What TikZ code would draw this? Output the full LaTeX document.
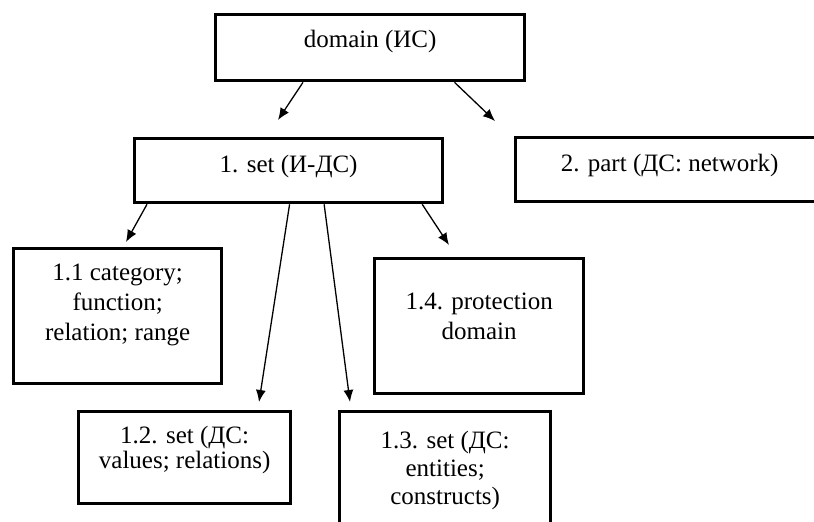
\documentclass[tikz,border=0pt]{standalone}
\usepackage{fontspec}
\setmainfont{Liberation Serif}
\usetikzlibrary{calc}
\usetikzlibrary{arrows.meta}
% top-aligned box text: width, height, first baseline, line skip, text
\newcommand{\boxtxt}[5]{\parbox[t][#2pt][t]{#1pt}{\centering\baselineskip=#4pt\rule{0pt}{#3pt}#5\par}}

\begin{document}
\begin{tikzpicture}[x=1pt, y=-1pt,
		box/.style={draw, line width=3.3pt, inner sep=0pt, anchor=north west, font=\fontsize{25}{30}\selectfont},
		arr/.style={-{Latex[length=12pt, width=10pt]}, line width=1.3pt}]
	\useasboundingbox (0,0) rectangle (814,522);
	\node[box] (dom) at (214,13) {\boxtxt{309}{66}{33}{30}{domain (ИС)}};
	\node[box] (set) at (133,137) {\boxtxt{308}{64}{34}{30}{1. set (И-ДС)}};
	\node[box] (part) at (514,136) {\boxtxt{308}{64}{34}{30}{2. part (ДС: network)}};
	\node[box] (c11) at (12,247) {\boxtxt{208}{135}{32}{30}{1.1 category;\\function;\\relation; range}};
	\node[box] (c14) at (373,257) {\boxtxt{209}{135}{51}{30}{1.4. protection\\domain}};
	\node[box] (c12) at (77,410) {\boxtxt{212}{92}{32}{25}{1.2. set (ДС:\\values; relations)}};
	\node[box] (c13) at (338,410) {\boxtxt{211}{140}{37}{28}{1.3. set (ДС:\\entities;\\constructs)}};
	% arrows
	\draw[arr] ($(dom.south west)!0.285!(dom.south east)$) -- ($(set.north west)+(145,-17)$);
	\draw[arr] ($(dom.south west)!0.770!(dom.south east)$) -- ($(part.north west)+(-19,-15)$);
	\draw[arr] ($(set.south west)!0.045!(set.south east)$) -- ($(c11.north west)+(114,-5)$);
	\draw[arr] ($(set.south west)!0.503!(set.south east)$) -- ($(c12.north west)+(182,-8)$);
	\draw[arr] ($(set.south west)!0.614!(set.south east)$) -- ($(c13.north west)+(12,-8)$);
	\draw[arr] ($(set.south west)!0.929!(set.south east)$) -- ($(c14.north west)+(76,-12)$);
\end{tikzpicture}
\end{document}
